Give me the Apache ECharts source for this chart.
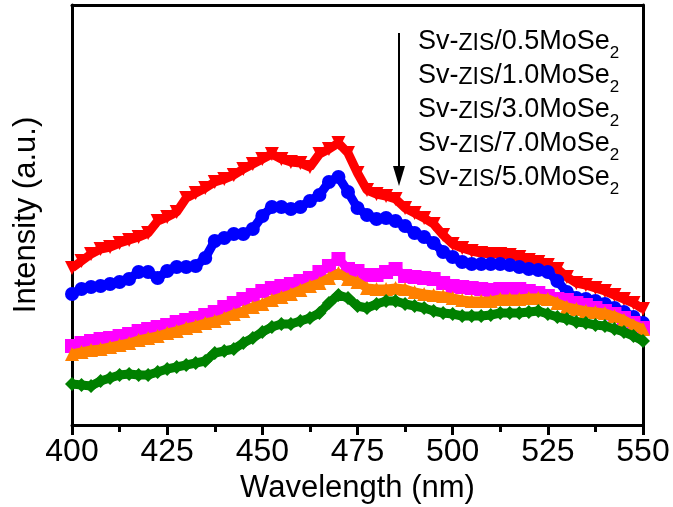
<!DOCTYPE html>
<html>
<head>
<meta charset="utf-8">
<script src="https://cdn.jsdelivr.net/npm/echarts@6/dist/echarts.min.js"></script>
<style>html,body{margin:0;padding:0;background:#fff}#c{width:673px;height:507px}</style>
</head>
<body>
<div id="c"></div>
<script>
// Wavelength grid (nm)
var wavelengths = [];
for (var w = 400; w <= 550.001; w += 2.5) wavelengths.push(+w.toFixed(1));

var xTicks = [400, 425, 450, 475, 500, 525, 550];

var names = ['Sv-ZIS/0.5MoSe2', 'Sv-ZIS/1.0MoSe2', 'Sv-ZIS/3.0MoSe2', 'Sv-ZIS/7.0MoSe2', 'Sv-ZIS/5.0MoSe2'];

var s05 = [157,164,171,176,178,182,185,188,192,204,208,213,227,232,237,243,246,250,256,261,266,271,266,263,262,258,271,276,282,272,252,235,231,229,226,217,212,207,201,190,181,177,174,172,171,171,170,168,165,163,160,156,148,142,140,137,134,130,126,122,116];
var s10 = [131,136,138,139,141,143,146,153,153,147,154,158,158,159,167,184,187,191,191,196,209,218,218,216,218,224,230,243,248,233,217,210,206,207,204,199,192,188,182,173,168,163,161,161,161,161,160,158,156,155,153,144,133,127,126,124,121,117,113,108,102];
var s30 = [79,82,84,86,87,89,91,94,96,98,100,103,105,107,110,113,118,122,126,130,134,137,139,141,144,147,153,159,166,156,154,150,150,153,156,149,148,147,146,142,139,138,137,136,135,136,136,136,134,132,129,126,125,122,120,117,114,111,107,102,97];
var s70 = [71,73,75,76,78,80,82,85,87,89,92,94,97,99,102,104,107,111,114,118,121,125,128,131,135,139,142,147,152,146,143,137,136,136,137,136,133,131,130,129,127,125,124,124,124,126,126,126,127,127,126,122,118,116,114,113,112,109,105,100,96];
var s50 = [41,40,39,44,47,50,51,50,50,53,56,58,60,62,64,72,74,76,82,87,93,98,101,101,104,107,112,122,130,127,119,117,121,124,124,121,119,117,114,112,111,109,109,109,110,112,112,112,113,114,111,108,106,103,102,100,99,96,93,89,84];

function pairs(arr) { return wavelengths.map(function (w, i) { return [w, arr[i]]; }); }

var styles = [
  {data: s05, color: '#ff0000', symbol: 'triangle', rotate: 180},
  {data: s10, color: '#0000ff', symbol: 'circle', rotate: 0},
  {data: s30, color: '#ff00ff', symbol: 'rect', rotate: 0},
  {data: s70, color: '#ff8000', symbol: 'triangle', rotate: 0},
  {data: s50, color: '#008000', symbol: 'diamond', rotate: 0}
];

var series = styles.map(function (s, i) {
  return {
    name: names[i], type: 'line', data: pairs(s.data),
    symbol: s.symbol, symbolSize: 14, symbolRotate: s.rotate, showSymbol: true,
    itemStyle: {color: s.color}, lineStyle: {color: s.color, width: 9},
    animation: false, z: 2 + i
  };
});

var F = '"Liberation Sans", Arial, sans-serif';

function legendText(pre) {
  return '{a|Sv-}{b|ZIS}{a|/' + pre + 'MoSe}{s|2}';
}
var legendLabels = ['0.5', '1.0', '3.0', '7.0', '5.0'];
var legendY = [44, 78, 112, 146, 180];
var graphics = legendLabels.map(function (lab, i) {
  return {
    type: 'text', left: 418, top: legendY[i] - 16, z: 100,
    style: {
      text: legendText(lab), fill: '#000',
      rich: {
        a: {fontSize: 27, fontFamily: F, fill: '#000', verticalAlign: 'bottom', lineHeight: 30},
        b: {fontSize: 23, fontFamily: F, fill: '#000', verticalAlign: 'bottom', lineHeight: 30},
        s: {fontSize: 17, fontFamily: F, fill: '#000', verticalAlign: 'bottom', lineHeight: 22, padding: [0, 0, -7, 0]}
      }
    }
  };
});
graphics.push({type: 'line', z: 100, shape: {x1: 399, y1: 33, x2: 399, y2: 172}, style: {stroke: '#000', lineWidth: 2}});
graphics.push({type: 'polygon', z: 100, shape: {points: [[393, 166], [405, 166], [399, 186]]}, style: {fill: '#000'}});

var chart = echarts.init(document.getElementById('c'), null, {renderer: 'canvas'});
chart.setOption({
  backgroundColor: '#fff',
  animation: false,
  grid: {left: 72, top: 5, width: 571, height: 420, containLabel: false, outerBoundsMode: 'none'},
  xAxis: [{
    type: 'value', min: 400, max: 550, interval: 25, position: 'bottom',
    name: 'Wavelength (nm)', nameLocation: 'middle', nameGap: 46,
    nameTextStyle: {fontSize: 31, fontFamily: F, color: '#000'},
    axisLine: {show: true, lineStyle: {color: '#000', width: 3}},
    axisTick: {show: true, inside: false, length: 10, lineStyle: {color: '#000', width: 3}},
    minorTick: {show: true, splitNumber: 2, length: 7, lineStyle: {color: '#000', width: 3}},
    axisLabel: {fontSize: 32, fontFamily: F, color: '#000', margin: 11,
      formatter: function (v) { return xTicks.indexOf(v) >= 0 ? String(v) : ''; }},
    splitLine: {show: false}
  }, {
    type: 'value', min: 400, max: 550, position: 'top',
    axisLine: {show: true, onZero: false, lineStyle: {color: '#000', width: 3}},
    axisTick: {show: false}, axisLabel: {show: false}, splitLine: {show: false}
  }],
  yAxis: [{
    type: 'value', min: 0, max: 420, position: 'left',
    name: 'Intensity (a.u.)', nameLocation: 'middle', nameGap: 30,
    nameTextStyle: {fontSize: 31, fontFamily: F, color: '#000'},
    axisLine: {show: true, lineStyle: {color: '#000', width: 3}},
    axisTick: {show: false}, axisLabel: {show: false}, splitLine: {show: false}
  }, {
    type: 'value', min: 0, max: 420, position: 'right',
    axisLine: {show: true, onZero: false, lineStyle: {color: '#000', width: 3}},
    axisTick: {show: false}, axisLabel: {show: false}, splitLine: {show: false}
  }],
  series: series,
  graphic: graphics
});
</script>
</body>
</html>
